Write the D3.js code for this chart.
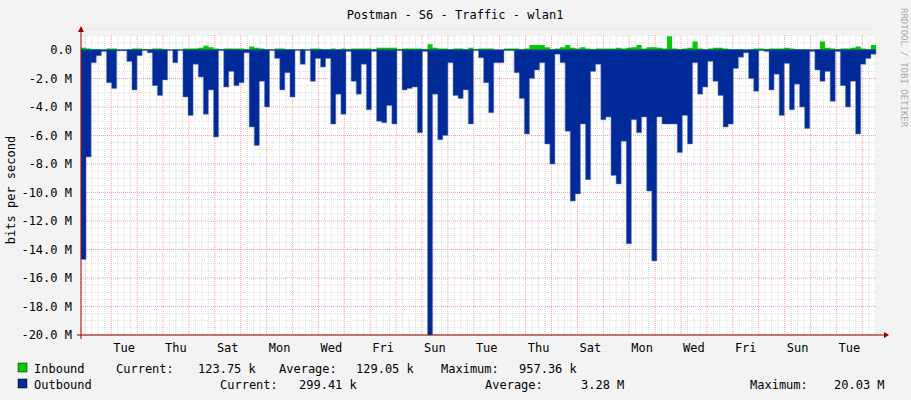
<!DOCTYPE html>
<html>
<head>
<meta charset="utf-8">
<script src="https://cdn.jsdelivr.net/npm/d3@7"></script>
<style>
body { margin: 0; background: #f3f3f3; }
text { font-family: "DejaVu Sans Mono", monospace; font-size: 12px; fill: #000; }
</style>
</head>
<body>
<div id="chart"></div>
<script>
// Outbound (M bits/s, drawn negative) and inbound samples, left to right
var outbound = [-14.7,-7.5,-0.9,-0.4,-0.1,-2.3,-2.7,-0.05,-0.05,-0.8,-2.8,-0.4,0,-0.2,-2.5,-3.2,-2.1,0,-0.9,0,
    -3.3,-4.6,-1,-1.9,-4.5,-2.8,-6.1,0,-2.6,-1.5,
    -2.5,-2.3,-0.2,-5.4,-6.7,-2.2,-4,0,-0.6,-2.8,
    -1.6,-3.3,0,-1,0,-2.2,-0.6,-1.2,-0.6,-5.2,
    -3.1,-4.5,-0.1,-2.2,-3.1,-1,-4.2,-0.1,-5,-5.1,
    -3.9,-5.2,0,-2.8,-2.7,-2.6,-5.8,-0.1,-20,-3.1,
    -6.3,-6.0,
    -0.9,-3.2,-3.4,-2.8,-5.2,0,-0.55,-2.3,-4.4,-0.9,
    -0.9,0,0,-1.6,-3.4,-5.9,-2,-1.4,-0.9,-6.6,
    -8,-0.3,-0.9,-5.7,-10.6,-10.1,-5.2,-9.1,-1.5,-1,
    -4.9,-4.7,-8.8,-9.4,-6.4,-13.6,-4.9,-5.8,-4.7,-9.9,
    -14.8,-4.7,-5.2,-5.2,-5.2,-7.2,-4.6,-6.6,-0.9,-3.1,
    -2.6,-0.8,-2.2,-3.2,-5.4,-5.2,-1.3,-0.5,-0.2,-2,
    -2.9,0,-0.1,-2.8,-1.7,-4.6,-0.95,-4.2,-2.4,-4,
    -5.5,-0.1,-1.4,-2.2,-1.5,-3.6,-0.1,-2.5,-4,-2.2,
    -5.9,-1,-0.6,-0.3];

var inbound = [0.15,0.1,0.05,0.05,0,0.1,0.1,0,0,0.05,
    0.1,0.1,0.05,0.05,0.1,0.1,0.05,0,0.05,0,
    0.1,0.1,0.1,0.15,0.3,0.2,0.1,0.05,0.1,0.1,
    0.1,0.1,0.05,0.25,0.15,0.1,0.05,0,0.1,0.1,
    0.05,0.05,0,0.05,0,0.1,0.1,0.05,0.05,0.1,
    0.05,0.1,0.05,0.1,0.1,0.1,0.1,0.05,0.15,0.15,
    0.15,0.15,0.05,0.1,0.1,0.1,0.1,0.05,0.4,0.15,
    0.1,0.1,0.05,0.1,0.1,0.05,0.15,0.05,0.1,0.1,
    0.1,0,0,0.1,0.1,0.1,0.05,0.1,0.35,0.35,
    0.35,0.2,0.05,0.1,0.2,0.35,0.15,0.1,0.2,0.1,
    0.05,0.1,0.1,0.1,0.1,0.15,0.1,0.15,0.2,0.35,
    0.1,0.2,0.2,0.15,0.1,0.96,0.1,0.05,0.1,0.15,
    0.6,0.1,0.05,0.1,0.15,0.15,0.1,0.05,0.05,0.05,
    0,0.05,0.1,0.1,0.05,0.1,0.1,0.1,0.15,0.1,
    0.05,0.05,0.05,0,0.05,0.6,0.15,0.1,0.05,0.1,
    0.1,0.15,0.25,0.1,0.05,0.35];

var dayLabels = ["Tue","Thu","Sat","Mon","Wed","Fri","Sun","Tue","Thu","Sat","Mon","Wed","Fri","Sun","Tue"];
var yTicks = [0,-2,-4,-6,-8,-10,-12,-14,-16,-18,-20];

var svgWidth = 911, svgHeight = 400;
var plotLeft = 81, plotRight = 876, plotTop = 50, plotBottom = 335;

var svg = d3.select("#chart").append("svg")
    .attr("width", svgWidth).attr("height", svgHeight);

svg.append("rect").attr("width", svgWidth).attr("height", svgHeight).attr("fill", "#f3f3f3");
svg.append("rect").attr("x", plotLeft).attr("y", 35).attr("width", plotRight - plotLeft).attr("height", plotBottom - 35).attr("fill", "#fff");

// time in days (day 0 = Monday)
var dayStart = -0.166, daySpan = (plotRight - plotLeft) / 25.9;
var x = d3.scaleLinear().domain([dayStart, dayStart + daySpan]).range([plotLeft, plotRight]);
var y = d3.scaleLinear().domain([-20, 0]).range([plotBottom, plotTop]);

var step = daySpan / outbound.length;
var series = outbound.map((v, i) => ({t: dayStart + i * step, out: v, inb: inbound[i]}));
series.push({t: dayStart + daySpan, out: outbound[outbound.length - 1], inb: inbound[inbound.length - 1]});

// grid
var minorX = d3.range(Math.ceil(dayStart * 4), Math.floor((dayStart + daySpan) * 4) + 1).map(d => d / 4);
svg.append("g").selectAll("line").data(minorX.filter(d => d % 1 !== 0)).enter().append("line")
    .attr("x1", d => x(d)).attr("x2", d => x(d)).attr("y1", 35).attr("y2", plotBottom)
    .attr("stroke", "#ddd").attr("stroke-dasharray", "1,1");
var minorY = d3.range(-20, 2, 0.5).filter(d => d % 2 !== 0);
svg.append("g").selectAll("line").data(minorY).enter().append("line")
    .attr("x1", plotLeft).attr("x2", plotRight).attr("y1", d => y(d)).attr("y2", d => y(d))
    .attr("stroke", "#ddd").attr("stroke-dasharray", "1,1");
svg.append("g").selectAll("line").data(d3.range(0, 31)).enter().append("line")
    .attr("x1", d => x(d)).attr("x2", d => x(d)).attr("y1", 35).attr("y2", plotBottom)
    .attr("stroke", "#f4a0a0").attr("stroke-dasharray", "1,1");
svg.append("g").selectAll("line").data(yTicks).enter().append("line")
    .attr("x1", plotLeft).attr("x2", plotRight).attr("y1", d => y(d)).attr("y2", d => y(d))
    .attr("stroke", "#f4a0a0").attr("stroke-dasharray", "1,1");

// areas (inbound mirrored above zero)
var outArea = d3.area().curve(d3.curveStepAfter)
    .x(d => x(d.t)).y0(y(0)).y1(d => y(d.out));
var inArea = d3.area().curve(d3.curveStepAfter)
    .x(d => x(d.t)).y0(y(0)).y1(d => 2 * y(0) - y(-d.inb));
svg.append("path").datum(series).attr("d", outArea)
    .attr("fill", "#002a97").attr("stroke", "#6f86c4").attr("stroke-width", 0.5);
svg.append("path").datum(series).attr("d", inArea).attr("fill", "#00cc00");
svg.append("line").attr("x1", plotLeft).attr("x2", plotRight).attr("y1", y(0)).attr("y2", y(0))
    .attr("stroke", "#002a97");

// axes
svg.append("line").attr("x1", plotLeft - 4).attr("x2", 884).attr("y1", plotBottom).attr("y2", plotBottom).attr("stroke", "#900");
svg.append("line").attr("x1", plotLeft).attr("x2", plotLeft).attr("y1", plotBottom + 4).attr("y2", 30).attr("stroke", "#900");
svg.append("path").attr("d", `M884,${plotBottom - 3}L889,${plotBottom}L884,${plotBottom + 3}Z`).attr("fill", "#900");
svg.append("path").attr("d", `M${plotLeft - 3},32L${plotLeft},26L${plotLeft + 3},32Z`).attr("fill", "#900");

svg.append("g").selectAll("text").data(yTicks).enter().append("text")
    .attr("x", 72).attr("y", d => y(d) + 4).attr("text-anchor", "end")
    .text(d => d === 0 ? "0.0" : d.toFixed(1) + " M");
svg.append("g").selectAll("text").data(dayLabels).enter().append("text")
    .attr("x", (d, i) => x(1.5 + 2 * i)).attr("y", plotBottom + 17).attr("text-anchor", "middle")
    .text(d => d);

// titles
svg.append("text").attr("x", 455).attr("y", 19).attr("text-anchor", "middle").text("Postman - S6 - Traffic - wlan1");
svg.append("text").attr("transform", "translate(15,190) rotate(-90)").attr("text-anchor", "middle").text("bits per second");
svg.append("text").attr("transform", "translate(901,8) rotate(90)").style("font-size", "9px").style("fill", "#aaa")
    .text("RRDTOOL / TOBI OETIKER");

// legend
svg.append("rect").attr("x", 18).attr("y", 363).attr("width", 9).attr("height", 9).attr("fill", "#00cc00").attr("stroke", "#000").attr("stroke-width", 0.5);
svg.append("rect").attr("x", 18).attr("y", 379).attr("width", 9).attr("height", 9).attr("fill", "#002a97").attr("stroke", "#000").attr("stroke-width", 0.5);
var legend = [
    [34, 373, "Inbound"], [116, 373, "Current:"], [198, 373, "123.75 k"], [279, 373, "Average:"],
    [356, 373, "129.05 k"], [441, 373, "Maximum:"], [519, 373, "957.36 k"],
    [34, 389, "Outbound"], [220, 389, "Current:"], [299, 389, "299.41 k"], [485, 389, "Average:"],
    [581, 389, "3.28 M"], [750, 389, "Maximum:"], [834, 389, "20.03 M"]
];
svg.append("g").selectAll("text").data(legend).enter().append("text")
    .attr("x", d => d[0]).attr("y", d => d[1]).text(d => d[2]);
</script>
</body>
</html>
